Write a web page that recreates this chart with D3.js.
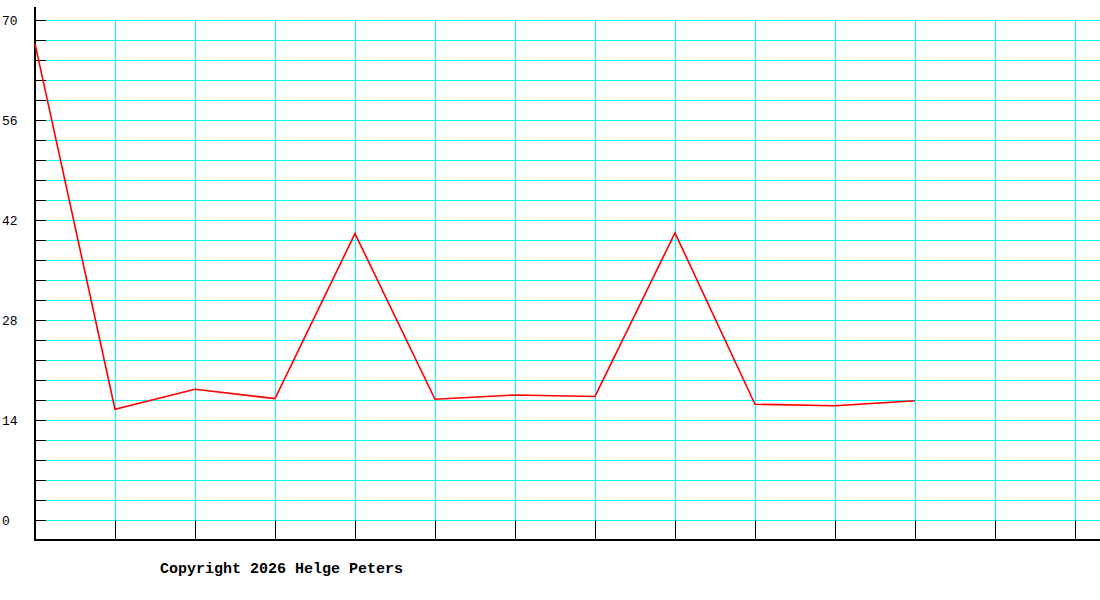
<!DOCTYPE html>
<html>
<head>
<meta charset="utf-8">
<script src="https://cdn.jsdelivr.net/npm/d3@7"></script>
<style>
  body { margin: 0; background: #fff; }
  svg { display: block; }
</style>
</head>
<body>
<svg id="chart" width="1100" height="600"></svg>
<script>
// DATA
const slots = d3.range(14);            // vertical grid slots along x
const values = [66.7, 15.5, 18.3, 17.0, 40.1, 16.9, 17.5, 17.3, 40.2, 16.2, 16.0, 16.7];
const yLabels = [0, 14, 28, 42, 56, 70];
const gridStep = 2.8;
const copyright = "Copyright 2026 Helge Peters";

// SCALES
const x = d3.scaleLinear().domain([0, 13]).range([35, 1075]);
const y = d3.scaleLinear().domain([0, 70]).range([520, 20]);

const gridValues = d3.range(0, 26).map(i => i * gridStep);

const svg = d3.select("#chart");

// horizontal grid lines (cyan) with black tick stubs on the left
svg.append("g")
    .attr("stroke", "#00ffff")
    .attr("shape-rendering", "crispEdges")
  .selectAll()
  .data(gridValues)
  .join("line")
    .attr("x1", 46).attr("x2", 1100)
    .attr("y1", d => Math.round(y(d)) + 0.5)
    .attr("y2", d => Math.round(y(d)) + 0.5);

svg.append("g")
    .attr("stroke", "black")
    .attr("shape-rendering", "crispEdges")
  .selectAll()
  .data(gridValues)
  .join("line")
    .attr("x1", 35).attr("x2", 46)
    .attr("y1", d => Math.round(y(d)) + 0.5)
    .attr("y2", d => Math.round(y(d)) + 0.5);

// vertical grid lines (cyan) with black ticks below
svg.append("g")
    .attr("stroke", "#00ffff")
    .attr("shape-rendering", "crispEdges")
  .selectAll()
  .data(slots.slice(1))
  .join("line")
    .attr("x1", d => x(d) + 0.5).attr("x2", d => x(d) + 0.5)
    .attr("y1", y(70)).attr("y2", y(0));

svg.append("g")
    .attr("stroke", "black")
    .attr("shape-rendering", "crispEdges")
  .selectAll()
  .data(slots.slice(1))
  .join("line")
    .attr("x1", d => x(d) + 0.5).attr("x2", d => x(d) + 0.5)
    .attr("y1", y(0)).attr("y2", 540);

// axes
svg.append("line")
    .attr("x1", 35).attr("x2", 35)
    .attr("y1", 7).attr("y2", 541)
    .attr("stroke", "black").attr("stroke-width", 2)
    .attr("shape-rendering", "crispEdges");

svg.append("line")
    .attr("x1", 34).attr("x2", 1100)
    .attr("y1", 540).attr("y2", 540)
    .attr("stroke", "black").attr("stroke-width", 2)
    .attr("shape-rendering", "crispEdges");

// y labels
svg.append("g")
    .attr("font-family", "'Liberation Mono', monospace")
    .attr("font-size", 13)
    .attr("fill", "black")
  .selectAll()
  .data(yLabels)
  .join("text")
    .attr("x", 2)
    .attr("y", d => y(d) + 5)
    .text(d => d);

// data line
const line = d3.line()
    .x((d, i) => x(i))
    .y(d => y(d));

svg.append("path")
    .datum(values)
    .attr("d", line)
    .attr("fill", "none")
    .attr("stroke", "#ff0000")
    .attr("stroke-width", 1.6);

// copyright
svg.append("text")
    .attr("x", 160)
    .attr("y", 573)
    .attr("font-family", "'Liberation Mono', 'DejaVu Sans Mono', monospace")
    .attr("font-size", 15)
    .attr("font-weight", "bold")
    .attr("fill", "black")
    .text(copyright);
</script>
</body>
</html>
